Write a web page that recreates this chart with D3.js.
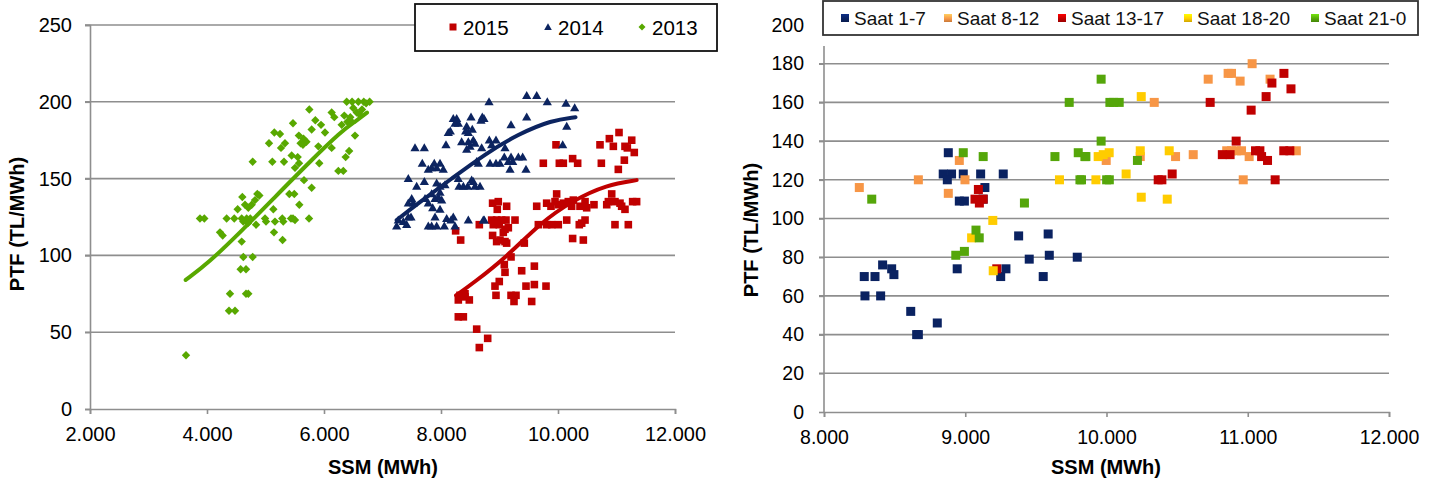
<!doctype html>
<html lang="tr">
<head>
<meta charset="utf-8">
<title>PTF - SSM</title>
<script src="https://cdn.jsdelivr.net/npm/d3@7"></script>
<style>
  html, body { margin: 0; padding: 0; background: #fff; }
  svg { display: block; font-family: "Liberation Sans", Arial, sans-serif; }
</style>
</head>
<body>
<svg id="chart" width="1447" height="483"></svg>
<script>
// ---- left chart: yearly scatter with trend lines ----
const years = ["2015", "2014", "2013"];

const red2015 = [
  [11043,180],[10878,176],[10946,171],[11260,175],[11145,171],[11185,170],[11304,167],[10718,172],[11134,162],[11031,156],[10741,160],
  [9966,172],[9749,160],[10023,160],[10091,160],[10250,163],[10336,160],
  [8882,134],[8979,135],[8962,130],[9122,132],[8866,123],[8951,123],[8894,120],[9037,123],[9111,123],[9265,123],[8996,120],
  [9094,117],[9151,118],[9065,115],[8882,113],[8951,109],[9008,110],[9094,109],[9122,108],[9424,108],[8655,120],[8250,116],[8336,110],
  [9197,99],[9082,94],[9094,89],[9379,90],[9596,93],[8996,83],[8923,80],[8940,74],[9453,80],[9596,81],[9795,80],
  [9197,74],[9282,74],[9248,70],[9550,70],[8296,71],[8410,73],[8484,71],[8325,74],[8410,75],[8296,60],[8382,60],
  [8610,52],[8798,46],[8655,40],
  [9636,132],[9806,134],[9880,132],[9977,140],[9949,135],[10005,133],[10091,134],[10176,135],[10233,132],[10262,136],[10376,132],
  [10462,135],[10490,131],[10615,133],[10833,133],[10918,140],[10861,135],[10974,135],[11060,134],[11088,132],[11145,130],[11276,135],[11344,135],
  [10974,120],[11202,120],[10149,123],[10364,120],[10462,123],[10405,121],[9664,120],[9806,120],[9892,120],[10005,120],[10250,111],[10433,110]
];

const navy2014 = [
  [8821,200],[9465,204],[9636,204],[9817,200],[10137,199],[10285,196],[10149,184],[9465,190],[9197,185],
  [8706,190],[8735,189],[8684,188],[8210,189],[8268,189],[8296,186],[8240,186],[8513,190],
  [8439,184],[8535,182],[8467,180],[8422,181],[8159,181],[8125,180],[8085,172],[7556,170],[7715,170],
  [8353,174],[8467,174],[8552,175],[8496,171],[8439,169],[8581,173],[8826,175],[8940,175],[8866,172],[8695,170],[9094,170],
  [7680,160],[7783,156],[7885,160],[7983,160],[7926,157],[8039,156],[7840,157],[8610,161],[8638,160],
  [8838,160],[8940,160],[9008,160],[9082,164],[9197,164],[9151,161],[9226,161],[9180,156],[9322,164],[9396,164],[9453,156],[10080,172],
  [7441,150],[7584,145],[7715,148],[7926,147],[7983,145],[8068,146],
  [8296,150],[8308,145],[8382,145],[8456,145],[8552,148],[8581,145],[8667,145],[8524,149],
  [7499,137],[7441,134],[7527,134],[7727,137],[7783,134],[7840,140],[7898,137],[7954,138],[8012,136],[7983,141],
  [7858,131],[7898,125],[7983,130],[7441,125],[7487,125],[7270,123],[7356,122],[7242,119],[7413,120],
  [7783,119],[7840,119],[7926,119],[8057,119],[8097,124],[8171,123],[8210,125],[8240,119],[8467,123],[8740,123],[8723,123]
];

const green2013 = [
  [3641,35],[3880,124],[3954,124],[4222,115],[4268,113],[4336,124],[4466,124],[4593,124],[4678,124],[4620,122],[4700,121],[4740,124],
  [4376,64],[4479,64],[4393,75],[4667,75],[4706,75],[4575,91],[4667,91],[4621,99],[4781,99],[4593,109],[4838,120],
  [4992,124],[5009,122],[5162,122],[5287,124],[5304,122],[5436,124],[5504,123],[5470,124],[5744,124],[5145,115],[5292,110],
  [4524,130],[4650,133],[4764,133],[4706,131],[5134,130],[4604,138],[4860,140],[4895,139],[4821,136],
  [5407,140],[5492,140],[5578,133],[5658,149],[5789,144],
  [4781,161],[5117,161],[5316,161],[5573,160],[5504,157],[5919,160],[6370,164],[6245,155],[6330,155],
  [5447,165],[5550,164],[5903,171],[6131,170],[5060,173],[5333,173],[5265,170],[5151,180],[5248,179],
  [5570,178],[5650,176],[5700,174],[5600,173],[5640,172],[6017,180],[5470,186],[5852,188],[5949,185],[5789,182],
  [5749,195],[6388,200],[6131,193],[6176,190],[6347,191],[6473,187],[6302,185],[6450,190],[6500,196],[6587,200],
  [6480,200],[6680,200],[6780,200],[6720,199],[6560,193],[6400,187],[6530,178],[6430,168],[6600,192],[6650,195]
];

// trend curves
const trend2015 = [[8257,74],[8552,82],[9122,99],[9692,121],[10262,136],[10833,146],[11344,149]];
const trend2014 = [[7242,123],[7612,134],[8183,150],[8752,166],[9322,179],[9892,188],[10300,190]];
const trend2013 = [[3636,84],[4022,95],[4593,116],[5162,138],[5732,160],[6302,181],[6530,187],[6735,193]];

const leftXTicks = [2000, 4000, 6000, 8000, 10000, 12000];
const leftYTicks = [0, 50, 100, 150, 200, 250];

// ---- right chart: hour groups ----
const hourGroups = ["Saat 1-7", "Saat 8-12", "Saat 13-17", "Saat 18-20", "Saat 21-0"];

const saat1_7 = [
  [8285,70],[8361,70],[8415,76],[8479,74],[8495,71],[8290,60],[8401,60],[8614,52],[8656,40],[8668,40],[8802,46],
  [8943,74],[9251,70],[9288,74],[9453,79],[9552,70],[9595,81],[9793,80],[9378,91],[9587,92],
  [8880,134],[8844,123],[8903,123],[8873,120],[8986,123],[9109,123],[9269,123],[8958,109],[8994,109],[9139,116],[9127,110]
];
const saat8_12 = [
  [8250,116],[8668,120],[8958,130],[8880,113],[8998,120],
  [11031,180],[10720,172],[10861,175],[10885,175],[10946,171],[11158,172],[10338,160],
  [10614,133],[10489,132],[10239,132],[9998,130],[10851,135],[10885,135],[10921,135],[10956,135],[11010,132],[11344,135],[10968,120]
];
const saat13_17 = [
  [9093,115],[9069,110],[9127,110],[9100,108],[9223,74],
  [11256,175],[11171,170],[11306,167],[11130,163],[10734,160],[11024,156],[10918,140],
  [11055,135],[11086,135],[11098,132],[11140,130],[10820,133],[10875,133],[11255,135],[11298,135],
  [10366,120],[10392,120],[10465,123],[11194,120]
];
const saat18_20 = [
  [9195,99],[9045,90],[9198,73],[10246,163],[10239,135],[10444,135],[9941,132],[9977,133],[10019,134],
  [9925,120],[10139,123],[10246,111],[10430,110],[9667,120]
];
const saat21_0 = [
  [8338,110],[8986,134],[9127,132],[9419,108],[9736,160],[9635,132],[9800,134],[9847,132],[9812,120],
  [9076,94],[9099,90],[8933,81],[8994,83],[9962,172],[10024,160],[10090,160],[10050,160],[9962,140],[9854,132],
  [10219,130],[9823,120],[10001,120],[10020,120]
];

const rightXTicks = [8000, 9000, 10000, 11000, 12000];
const rightYTicks = [0, 20, 40, 60, 80, 100, 120, 140, 160, 180, 200];

// colours
const cRed = "#c00000", cNavy = "#0c2460", cGreen = "#58a800";
const hourColors = ["#0a2261", "#f79646", "#c00000", "#ffcc00", "#55a60a"];

const fmt = d3.formatLocale({decimal: ",", thousands: ".", grouping: [3], currency: ["", ""]}).format(",");

const svg = d3.select("#chart");
const gridColor = "#8e8e8e";

// gradients for the right legend markers
const defs = svg.append("defs");
hourColors.forEach((c, i) => {
  const g = defs.append("linearGradient").attr("id", "lg" + i)
    .attr("x1", 0).attr("y1", 0).attr("x2", 0).attr("y2", 1);
  g.append("stop").attr("offset", "0%").attr("stop-color", d3.color(c).brighter(0.9));
  g.append("stop").attr("offset", "60%").attr("stop-color", c);
  g.append("stop").attr("offset", "100%").attr("stop-color", d3.color(c).darker(0.6));
});

// ================= LEFT =================
const xL = d3.scaleLinear().domain([2000, 12000]).range([90, 675]);
const yL = d3.scaleLinear().domain([0, 250]).range([409, 25]);
const left = svg.append("g");

left.append("g").selectAll("line").data(leftYTicks.filter(d => d > 0)).join("line")
  .attr("x1", 85).attr("x2", xL(12000))
  .attr("y1", d => yL(d)).attr("y2", d => yL(d))
  .attr("stroke", gridColor).attr("stroke-width", 1.6);

const lxAxis = left.append("g").attr("transform", `translate(0,${yL(0)})`)
  .call(d3.axisBottom(xL).tickValues(leftXTicks).tickFormat(fmt).tickSize(5).tickPadding(13));
const lyAxis = left.append("g").attr("transform", `translate(${xL(2000)},0)`)
  .call(d3.axisLeft(yL).tickValues(leftYTicks).tickSize(5).tickPadding(13));

[lxAxis, lyAxis].forEach(a => {
  a.selectAll("path, line").attr("stroke", gridColor).attr("stroke-width", 1.6);
  a.selectAll("text").attr("font-size", 20).attr("fill", "#000").attr("font-family", "Liberation Sans, Arial");
});

const diamond = "M0,-4.2L4.2,0L0,4.2L-4.2,0Z";
const tri = "M0,-4.6L4.6,3.4L-4.6,3.4Z";

left.append("g").selectAll("rect").data(red2015).join("rect")
  .attr("x", d => xL(d[0]) - 3.8).attr("y", d => yL(d[1]) - 3.8)
  .attr("width", 7.6).attr("height", 7.6).attr("fill", cRed);
left.append("g").selectAll("path").data(navy2014).join("path")
  .attr("d", tri).attr("transform", d => `translate(${xL(d[0])},${yL(d[1])})`).attr("fill", cNavy);
left.append("g").selectAll("path").data(green2013).join("path")
  .attr("d", diamond).attr("transform", d => `translate(${xL(d[0])},${yL(d[1])})`).attr("fill", cGreen);

// smooth spline through the points
const trendLine = d3.line().x(d => xL(d[0])).y(d => yL(d[1])).curve(d3.curveBasis);
[[trend2015, cRed], [trend2014, cNavy], [trend2013, cGreen]].forEach(([t, c]) => {
  left.append("path").attr("d", trendLine(t)).attr("fill", "none")
    .attr("stroke", c).attr("stroke-width", 4).attr("stroke-linecap", "round");
});

// titles
left.append("text").attr("x", 383).attr("y", 474).attr("text-anchor", "middle")
  .attr("font-size", 20).attr("font-weight", "bold").text("SSM (MWh)");
left.append("text").attr("transform", "translate(24,224) rotate(-90)").attr("text-anchor", "middle")
  .attr("font-size", 20).attr("font-weight", "bold").text("PTF (TL/MWh)");

// legend
const lLeg = left.append("g");
lLeg.append("rect").attr("x", 415).attr("y", 4).attr("width", 302).attr("height", 47)
  .attr("fill", "#fff").attr("stroke", "#111").attr("stroke-width", 1.8);
const legX = [453, 548, 642];
years.forEach((yr, i) => {
  const g = lLeg.append("g").attr("transform", `translate(${legX[i]},27)`);
  if (i === 0) g.append("rect").attr("x", -3.5).attr("y", -3.5).attr("width", 7).attr("height", 7).attr("fill", cRed);
  if (i === 1) g.append("path").attr("d", "M0,-3.8L3.8,3L-3.8,3Z").attr("fill", cNavy);
  if (i === 2) g.append("path").attr("d", "M0,-3.5L3.5,0L0,3.5L-3.5,0Z").attr("fill", cGreen);
  g.append("text").attr("x", 10).attr("y", 8).attr("font-size", 20.5).text(yr);
});

// ================= RIGHT =================
const xR = d3.scaleLinear().domain([8000, 12000]).range([824, 1389]);
const yR = d3.scaleLinear().domain([0, 200]).range([412, 25]);
const right = svg.append("g");

right.append("g").selectAll("line").data(rightYTicks.filter(d => d > 0 && d < 200)).join("line")
  .attr("x1", 819).attr("x2", xR(12000))
  .attr("y1", d => yR(d)).attr("y2", d => yR(d))
  .attr("stroke", gridColor).attr("stroke-width", 1.6);

const rxAxis = right.append("g").attr("transform", `translate(0,${yR(0)})`)
  .call(d3.axisBottom(xR).tickValues(rightXTicks).tickFormat(fmt).tickSize(5).tickPadding(13));
const ryAxis = right.append("g").attr("transform", `translate(${xR(8000)},0)`)
  .call(d3.axisLeft(yR).tickValues(rightYTicks).tickSize(5).tickPadding(15));
ryAxis.select(".domain").remove();
ryAxis.selectAll(".tick").filter(d => d === 200).select("line").remove();
right.append("line").attr("x1", xR(8000)).attr("x2", xR(8000)).attr("y1", 46).attr("y2", yR(0))
  .attr("stroke", gridColor).attr("stroke-width", 1.6);

[rxAxis, ryAxis].forEach(a => {
  a.selectAll("path, line").attr("stroke", gridColor).attr("stroke-width", 1.6);
  a.selectAll("text").attr("font-size", 19.5).attr("fill", "#000").attr("font-family", "Liberation Sans, Arial");
});

const hourSeries = [saat1_7, saat8_12, saat13_17, saat18_20, saat21_0];
hourSeries.forEach((s, i) => {
  right.append("g").selectAll("rect").data(s).join("rect")
    .attr("x", d => xR(d[0]) - 4.5).attr("y", d => yR(d[1]) - 4.5)
    .attr("width", 9).attr("height", 9).attr("fill", hourColors[i]);
});

right.append("text").attr("x", 1106).attr("y", 474).attr("text-anchor", "middle")
  .attr("font-size", 20).attr("font-weight", "bold").text("SSM (MWh)");
right.append("text").attr("transform", "translate(758,230) rotate(-90)").attr("text-anchor", "middle")
  .attr("font-size", 20).attr("font-weight", "bold").text("PTF (TL/MWh)");

const rLeg = right.append("g");
rLeg.append("rect").attr("x", 823).attr("y", 1).attr("width", 595).attr("height", 34)
  .attr("fill", "#fff").attr("stroke", "#333").attr("stroke-width", 1.8);
const rLegX = [845, 948, 1062, 1188, 1315];
hourGroups.forEach((h, i) => {
  const g = rLeg.append("g").attr("transform", `translate(${rLegX[i]},18)`);
  g.append("rect").attr("x", -4).attr("y", -4).attr("width", 8).attr("height", 8).attr("fill", `url(#lg${i})`);
  g.append("text").attr("x", 9).attr("y", 7).attr("font-size", 19).attr("fill", "#111").text(h);
});
</script>
</body>
</html>
